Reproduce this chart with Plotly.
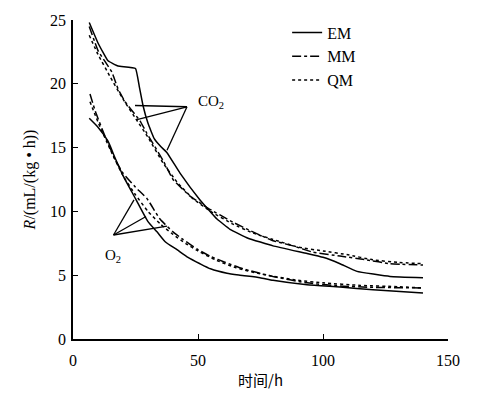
import plotly.graph_objects as go

# ---- data ----
em_co2_x = [6.5, 10, 14, 18, 25, 26.5, 28, 30, 32.5, 35, 37.6, 42.8, 50.8, 57.6, 62.8, 70, 80, 93.6, 100, 106.8, 113.6, 126.8, 140]
em_co2_y = [24.8, 23.2, 21.8, 21.4, 21.2, 19.8, 18.3, 16.9, 15.7, 15.1, 14.6, 13.0, 10.9, 9.4, 8.6, 7.9, 7.3, 6.7, 6.4, 5.9, 5.3, 4.9, 4.8]

mm_co2_x = [6.5, 10, 15.6, 18, 20.8, 26.8, 29.6, 36, 40, 46.8, 53.6, 64, 70.8, 80, 88, 96, 106.8, 117.6, 126.8, 140]
mm_co2_y = [24.5, 22.6, 20.9, 19.6, 18.6, 17.1, 16.1, 14.0, 12.5, 11.2, 10.3, 9.15, 8.5, 7.7, 7.3, 6.8, 6.5, 6.2, 5.9, 5.8]

qm_co2_x = [6.5, 10, 15, 20, 25, 30, 36, 42, 48, 55, 64, 72, 80, 90, 100, 110, 120, 130, 140]
qm_co2_y = [23.8, 22.3, 20.5, 18.8, 17.3, 15.8, 13.8, 12.2, 11.0, 10.0, 9.0, 8.3, 7.8, 7.2, 6.9, 6.6, 6.2, 6.0, 5.9]

em_o2_x = [6.5, 10, 14, 16.8, 20, 25, 30, 33.6, 37, 41.6, 46, 50.8, 55, 61.6, 66.8, 74.8, 80, 93.6, 106.8, 120, 140]
em_o2_y = [17.3, 16.6, 15.5, 14.2, 12.8, 11.0, 9.2, 8.4, 7.6, 7.0, 6.4, 5.9, 5.5, 5.15, 5.0, 4.8, 4.6, 4.25, 4.07, 3.85, 3.6]

mm_o2_x = [6.8, 9, 13, 17, 20, 25, 29.6, 34.8, 40, 44, 50, 54.8, 61, 68, 80, 93.6, 106.8, 120, 140]
mm_o2_y = [19.2, 17.8, 15.8, 14.0, 13.0, 11.9, 11.0, 9.4, 8.4, 7.8, 7.0, 6.5, 6.0, 5.5, 4.9, 4.4, 4.15, 4.05, 4.0]

qm_o2_x = [6.8, 10, 15, 20, 25, 30, 35, 40, 45, 50, 57, 65, 75, 90, 100, 115, 130, 140]
qm_o2_y = [18.6, 17.0, 14.8, 12.8, 11.3, 10.0, 9.0, 8.2, 7.5, 6.9, 6.2, 5.6, 5.1, 4.6, 4.4, 4.2, 4.1, 4.0]

x_ticks = [0, 50, 100, 150]
y_ticks = [0, 5, 10, 15, 20, 25]

# label leader lines
co2_apex = (45.6, 18.2)
co2_targets = [(24.8, 18.3), (25.6, 17.2), (37.6, 14.8)]
o2_apex = (16.2, 8.15)
o2_targets = [(24.4, 10.9), (29.2, 9.6), (37.6, 8.85)]

SERIF = "Liberation Serif"

fig = go.Figure()
series = [
    ("EM", em_co2_x, em_co2_y, em_o2_x, em_o2_y, "solid"),
    ("MM", mm_co2_x, mm_co2_y, mm_o2_x, mm_o2_y, "dashdot"),
    ("QM", qm_co2_x, qm_co2_y, qm_o2_x, qm_o2_y, "dot"),
]
for name, cx, cy, ox, oy, dash in series:
    fig.add_trace(go.Scatter(x=cx, y=cy, mode="lines", name=name, legendgroup=name,
                             line=dict(color="black", width=1.5, dash=dash, shape="spline", smoothing=0.3)))
    fig.add_trace(go.Scatter(x=ox, y=oy, mode="lines", name=name, legendgroup=name, showlegend=False,
                             line=dict(color="black", width=1.5, dash=dash, shape="spline", smoothing=0.5)))

for apex, targets in [(co2_apex, co2_targets), (o2_apex, o2_targets)]:
    for tx, ty in targets:
        fig.add_shape(type="line", x0=apex[0], y0=apex[1], x1=tx, y1=ty, xref="x", yref="y",
                      line=dict(color="black", width=1.3))

fig.add_annotation(x=49, y=18.6, xref="x", yref="y", text="CO<sub>2</sub>", showarrow=False,
                   xanchor="left", font=dict(family=SERIF, size=15, color="black"))
fig.add_annotation(x=16, y=6.5, xref="x", yref="y", text="O<sub>2</sub>", showarrow=False,
                   font=dict(family=SERIF, size=15, color="black"))

fig.update_layout(
    width=479, height=399,
    margin=dict(l=73, r=31, t=17, b=57),
    paper_bgcolor="white", plot_bgcolor="white",
    font=dict(family=SERIF, size=15, color="black"),
    legend=dict(x=0.571, y=1.014, xanchor="left", yanchor="top", bgcolor="rgba(0,0,0,0)",
                itemwidth=30, font=dict(family=SERIF, size=16), tracegroupgap=0),
    xaxis=dict(range=[0, 150], tickvals=x_ticks, ticks="inside", ticklen=5, tickcolor="black",
               showline=True, linecolor="black", linewidth=1.5, showgrid=False, zeroline=False,
               tickfont=dict(family=SERIF, size=16), ticklabelstandoff=6,
               title=dict(text="时间/h", font=dict(family="Noto Sans CJK SC", size=15), standoff=8)),
    yaxis=dict(range=[0, 25], tickvals=y_ticks, ticks="inside", ticklen=5, tickcolor="black",
               showline=True, linecolor="black", linewidth=1.5, showgrid=False, zeroline=False,
               tickfont=dict(family=SERIF, size=16), ticklabelstandoff=2,
               title=dict(text="<i>R</i>/(mL/(kg • h))", font=dict(family=SERIF, size=16), standoff=10)),
)

fig.write_html("out.html")
